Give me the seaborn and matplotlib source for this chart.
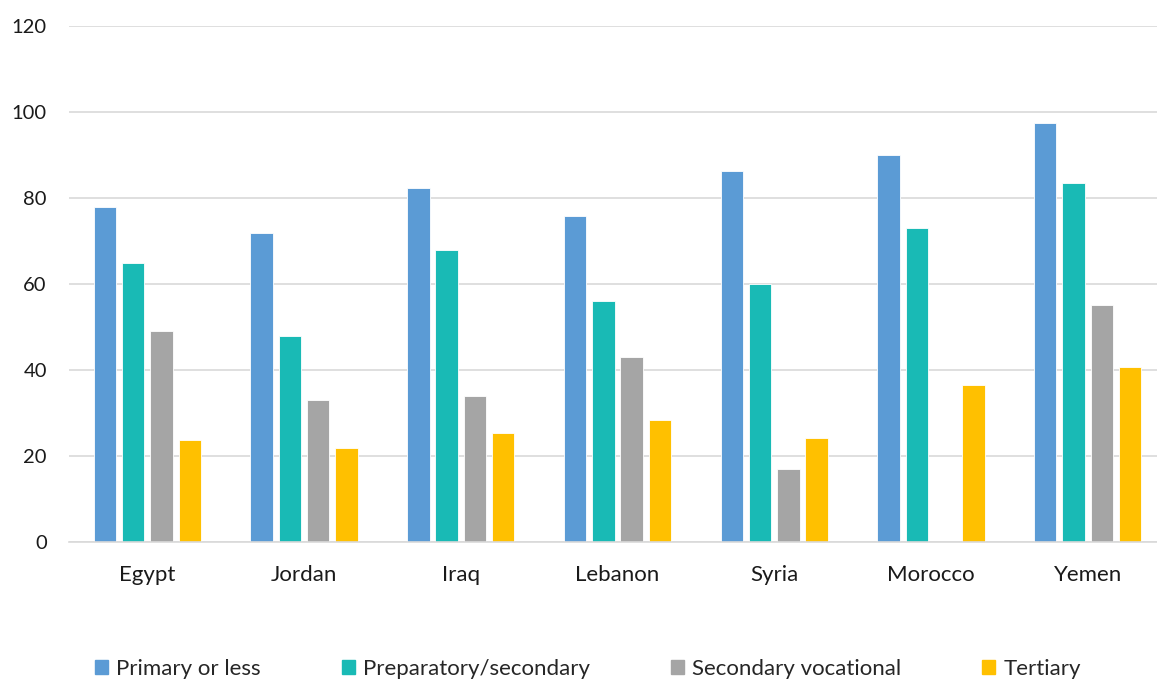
import numpy as np
import pandas as pd
import seaborn as sns
import matplotlib.pyplot as plt

# data
countries = ["Egypt", "Jordan", "Iraq", "Lebanon", "Syria", "Morocco", "Yemen"]
levels = ["Primary or less", "Preparatory/secondary", "Secondary vocational", "Tertiary"]
primary = [77.8, 71.8, 82.2, 75.7, 86.2, 90.0, 97.4]
preparatory = [64.9, 47.9, 67.9, 56.0, 60.0, 73.0, 83.5]
vocational = [49.1, 33.0, 34.0, 43.0, 17.0, np.nan, 55.0]
tertiary = [23.7, 21.9, 25.4, 28.4, 24.2, 36.5, 40.7]
colors = ["#5B9BD5", "#19BAB5", "#A5A5A5", "#FFC000"]


def plot_education():
    rows = []
    for level, vals in zip(levels, [primary, preparatory, vocational, tertiary]):
        for c, v in zip(countries, vals):
            rows.append({"country": c, "level": level, "value": v})
    df = pd.DataFrame(rows).dropna()

    sns.set_style("white")
    plt.rcParams["font.family"] = ["Lato", "DejaVu Sans"]

    fig = plt.figure(figsize=(11.57, 6.8), dpi=100)
    ax = fig.add_axes([69 / 1157, 0.2025, 1097 / 1157, 0.7599])
    sns.barplot(
        data=df, x="country", y="value", hue="level",
        order=countries, hue_order=levels, palette=colors, saturation=1,
        width=0.722, gap=0.21, errorbar=None, ax=ax,
        edgecolor="white", linewidth=0.6,
    )
    # axes
    ax.set_xlim(-0.5, 6.5)
    ax.set_ylim(0, 120)
    ax.set_yticks(range(0, 121, 20))
    ax.set_xlabel("")
    ax.set_ylabel("")
    ax.yaxis.grid(True, color="#D9D9D9", linewidth=1.2)
    ax.set_axisbelow(True)
    for side in ["left", "right", "top"]:
        ax.spines[side].set_visible(False)
    ax.spines["bottom"].set_color("#D9D9D9")
    ax.spines["bottom"].set_linewidth(1.2)
    ax.tick_params(axis="both", length=0, colors="#1a1a1a")
    ax.tick_params(axis="x", pad=16, labelsize=16)
    ax.tick_params(axis="y", pad=16, labelsize=14.5)
    # legend
    ax.get_legend().remove()
    handles = [plt.Rectangle((0, 0), 1, 1, color=c) for c in colors]
    fig.legend(
        handles, levels, loc="center", bbox_to_anchor=(0.508, 1 - 669 / 680),
        ncol=4, frameon=False, fontsize=16, handlelength=0.6, handleheight=0.6,
        handletextpad=0.35, columnspacing=3.65,
    )
    fig.savefig("out.png", dpi=100)


if __name__ == "__main__":
    plot_education()
